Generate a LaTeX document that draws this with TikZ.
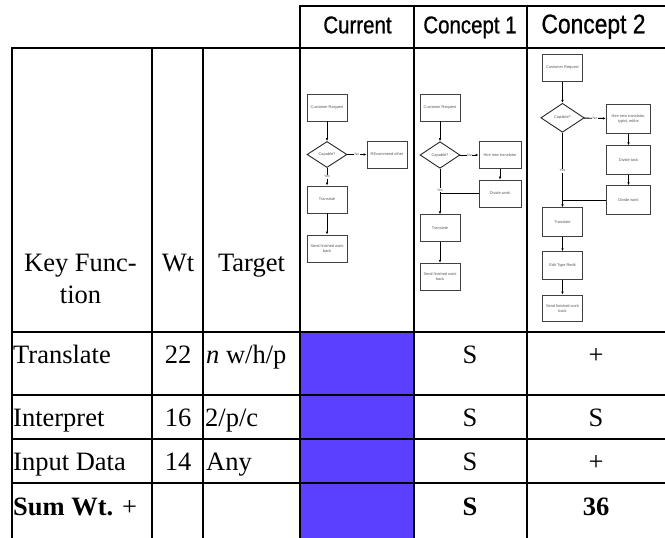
\documentclass[tikz,border=0pt]{standalone}
\usepackage{fontspec}
\setmainfont{Liberation Serif}
\newfontfamily\hdrfont[FakeStretch=0.845,FakeBold=0.8]{Liberation Sans}
\newfontfamily\minifont{Liberation Sans}
\usetikzlibrary{shapes.geometric,arrows.meta}
\definecolor{cellblue}{RGB}{92,64,255}
\tikzset{
  gridline/.style={line width=2pt, line cap=rect, black},
  cell/.style={inner sep=0pt, font=\fontsize{26.5}{32}\selectfont},
  hdr/.style={inner sep=0pt, font=\hdrfont\fontsize{24.2}{28}\selectfont},
  hdrbig/.style={inner sep=0pt, font=\hdrfont\fontsize{27}{31}\selectfont},
  fbox/.style={draw=black!75, line width=0.9pt, fill=white, minimum width=40, minimum height=27,
    inner sep=0.5pt, align=center, text=black!65, font=\minifont\fontsize{3.9}{4.6}\selectfont},
  fdia/.style={diamond, draw=black!85, line width=0.9pt, fill=white, minimum width=40, minimum height=26,
    inner sep=0pt, text=black!65, font=\minifont\fontsize{3.9}{4.6}\selectfont},
  arr/.style={draw=black, line width=0.9pt, -{Latex[length=3pt,width=2.6pt]}},
  plain/.style={draw=black, line width=0.9pt},
  lbl/.style={fill=white, inner sep=0.5pt, text=black!65, font=\minifont\fontsize{3.6}{4.2}\selectfont}
}
\begin{document}
\begin{tikzpicture}[x=1pt,y=-1pt]
\useasboundingbox (0,0) rectangle (665,538);
% blue cells
\fill[cellblue] (300,331) rectangle (414,540);
% grid
\draw[gridline] (300,6) -- (665,6);
\draw[gridline] (12,47.5) -- (665,47.5);
\draw[gridline] (12,331.5) -- (665,331.5);
\draw[gridline] (12,395) -- (665,395);
\draw[gridline] (12,439) -- (665,439);
\draw[gridline] (12,483) -- (665,483);
\draw[gridline] (12,47.5) -- (12,540);
\draw[gridline] (152,47.5) -- (152,540);
\draw[gridline] (203,47.5) -- (203,540);
\draw[gridline] (300,6) -- (300,540);
\draw[gridline] (414,6) -- (414,540);
\draw[gridline] (527,6) -- (527,540);
% header
\node[hdr, anchor=base] (hcur) at (357.5,33.3) {Current};
\node[hdr, anchor=base] (hc1) at (470,33.3) {Concept 1};
\node[hdrbig, anchor=base] (hc2) at (593.5,33.3) {Concept 2};
\node[cell, anchor=base] (hkf1) at (80.5,271) {Key Func-};
\node[cell, anchor=base] (hkf2) at (80.5,303) {tion};
\node[cell, anchor=base] (hwt) at (178,271) {Wt};
\node[cell, anchor=base] (htg) at (251.5,271) {Target};
% rows
\node[cell, anchor=base west] (r1a) at (13,363) {Translate};
\node[cell, anchor=base] (r1b) at (178,363) {22};
\node[cell, anchor=base west] (r1c) at (206,363) {\textit{n} w/h/p};
\node[cell, anchor=base] (r1d) at (470,363) {S};
\node[cell, anchor=base] (r1e) at (596,363) {+};
\node[cell, anchor=base west] (r2a) at (13,426.5) {Interpret};
\node[cell, anchor=base] (r2b) at (178,426.5) {16};
\node[cell, anchor=base west] (r2c) at (205,426.5) {2/p/c};
\node[cell, anchor=base] (r2d) at (470,426.5) {S};
\node[cell, anchor=base] (r2e) at (596,426.5) {S};
\node[cell, anchor=base west] (r3a) at (13,470) {Input Data};
\node[cell, anchor=base] (r3b) at (178,470) {14};
\node[cell, anchor=base west] (r3c) at (206,470) {Any};
\node[cell, anchor=base] (r3d) at (470,470) {S};
\node[cell, anchor=base] (r3e) at (596,470) {+};
\node[cell, anchor=base west] (r4a) at (13,515) {\textbf{Sum Wt.} +};
\node[cell, anchor=base] (r4d) at (470,515) {\textbf{S}};
\node[cell, anchor=base] (r4e) at (596,515) {\textbf{36}};
% flowchart: Current
\node[fbox] (c0a) at (327,107.5) {Customer Request};
\node[fdia] (c0b) at (327,154.5) {Capable?};
\node[fbox] (c0c) at (387,154.5) {REcommend other};
\node[fbox] (c0d) at (327,199.5) {Translate};
\node[fbox] (c0e) at (327,248.5) {Send finished work\\back};
\draw[arr] (c0a) -- (c0b);
\draw[arr] (c0b) -- node[lbl] {No} (c0c);
\draw[arr] (c0b) -- node[lbl] {Yes} (c0d);
\draw[arr] (c0d) -- (c0e);
% flowchart: Concept 1
\node[fbox] (c1a) at (440,107.5) {Customer Request};
\node[fdia, minimum height=26.6] (c1b) at (440,155) {Capable?};
\node[fbox, minimum width=42] (c1c) at (500,155) {Hire new translator};
\node[fbox, minimum width=42] (c1d) at (500,193.6) {Divide work};
\node[fbox] (c1e) at (440,228.3) {Translate};
\node[fbox] (c1f) at (440,276.7) {Send finished work\\back};
\draw[arr] (c1a) -- (c1b);
\draw[arr] (c1b) -- node[lbl] {No} (c1c);
\draw[arr] (c1c) -- (c1d);
\draw[plain] (c1d.west) -- (c1d.west -| c1b.south);
\draw[arr] (c1b.south) -- node[lbl, pos=0.47] {Yes} (c1e.north);
\draw[arr] (c1e) -- (c1f);
% flowchart: Concept 2
\node[fbox, minimum height=27.4] (c2a) at (562.5,68) {Customer Request};
\node[fdia, minimum width=43.4, minimum height=29] (c2b) at (562.5,117.8) {Capable?};
\node[fbox, minimum width=44.4, minimum height=29] (c2c) at (628.5,118.8) {Hire new translator,\\typist, editor};
\node[fbox, minimum width=44.4, minimum height=28.3] (c2d) at (628.5,159.9) {Divide task};
\node[fbox, minimum width=44.4, minimum height=28.6] (c2e) at (628.5,200) {Divide work};
\node[fbox, minimum height=28.3] (c2f) at (562.5,221.9) {Translate};
\node[fbox, minimum height=27.6] (c2g) at (562.5,265.5) {Edit Type Redit};
\node[fbox, minimum height=26.7] (c2h) at (562.5,308.4) {Send finished work\\back};
\draw[arr] (c2a) -- (c2b);
\draw[arr] (c2b) -- node[lbl] {No} (c2c);
\draw[arr] (c2c) -- (c2d);
\draw[arr] (c2d) -- (c2e);
\draw[plain] (c2e.west) -- (c2e.west -| c2b.south);
\draw[arr] (c2b.south) -- node[lbl, pos=0.51] {Yes} (c2f.north);
\draw[arr] (c2f) -- (c2g);
\draw[arr] (c2g) -- (c2h);
\end{tikzpicture}
\end{document}
